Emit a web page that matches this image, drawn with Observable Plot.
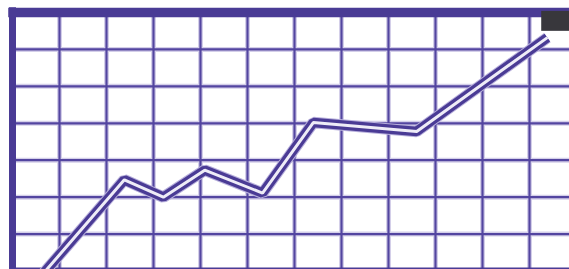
<!DOCTYPE html>
<html>
<head>
<meta charset="utf-8">
<script src="https://cdn.jsdelivr.net/npm/d3@7"></script>
<script src="https://cdn.jsdelivr.net/npm/@observablehq/plot@0.6"></script>
<style>
  html, body { margin: 0; padding: 0; background: #ffffff; overflow: hidden; }
  #chart svg { display: block; }
</style>
</head>
<body>
<div id="chart"></div>
<script>
// Grid positions (in grid units)
const gridX = [1, 2, 3, 4, 5, 6, 7, 8, 9, 10, 11];
const gridY = [1, 2, 3, 4, 5, 6];

// Series (grid units)
const seriesX = [0.62, 2.38, 3.21, 4.09, 5.32, 6.40, 8.60, 11.38];
const seriesY = [-0.12, 2.47, 2.0, 2.73, 2.11, 4.02, 3.78, 6.32];

// Dark corner box (grid units)
const cornerBox = [{x1: 11.26, x2: 12.2, y1: 6.49, y2: 7.03}];

const points = seriesX.map((x, i) => ({x, y: seriesY[i]}));

const purple = "#4a3b95";
const yTop = 7, yBottom = -0.1, xLeft = 0, xRight = 12.2;

const chart = Plot.plot({
  width: 569,
  height: 269,
  margin: 0,
  x: {domain: [0, 11], range: [12, 529], axis: null},
  y: {domain: [0, 7], range: [270.5, 12], axis: null},
  style: {background: "#ffffff"},
  marks: [
    // grid halos
    Plot.ruleX(gridX, {y1: yBottom, y2: yTop, stroke: "#d4cfe9", strokeWidth: 5}),
    Plot.ruleY(gridY, {x1: xLeft, x2: xRight, stroke: "#d4cfe9", strokeWidth: 5}),
    // grid cores
    Plot.ruleX(gridX, {y1: yBottom, y2: yTop, stroke: "#5345a0", strokeWidth: 2.2}),
    Plot.ruleY(gridY, {x1: xLeft, x2: xRight, stroke: "#5345a0", strokeWidth: 2.2}),
    // borders
    Plot.ruleY([7], {x1: -0.08, x2: xRight, stroke: purple, strokeWidth: 9.5}),
    Plot.ruleY([0], {x1: xLeft, x2: xRight, stroke: purple, strokeWidth: 7}),
    Plot.ruleX([0], {y1: yBottom, y2: 7.13, stroke: purple, strokeWidth: 7}),
    // line: soft halo, purple outline, light core
    Plot.line(points, {x: "x", y: "y", stroke: "#b8b0dc", strokeWidth: 11.5, strokeLinejoin: "miter", strokeLinecap: "butt"}),
    Plot.line(points, {x: "x", y: "y", stroke: purple, strokeWidth: 9.5, strokeLinejoin: "miter", strokeLinecap: "butt"}),
    Plot.line(points, {x: "x", y: "y", stroke: "#eeecf7", strokeWidth: 3, strokeLinejoin: "miter", strokeLinecap: "butt"}),
    // dark corner box
    Plot.rect(cornerBox, {x1: "x1", x2: "x2", y1: "y1", y2: "y2", fill: "#38373c"})
  ]
});

document.getElementById("chart").appendChild(chart);
</script>
</body>
</html>
